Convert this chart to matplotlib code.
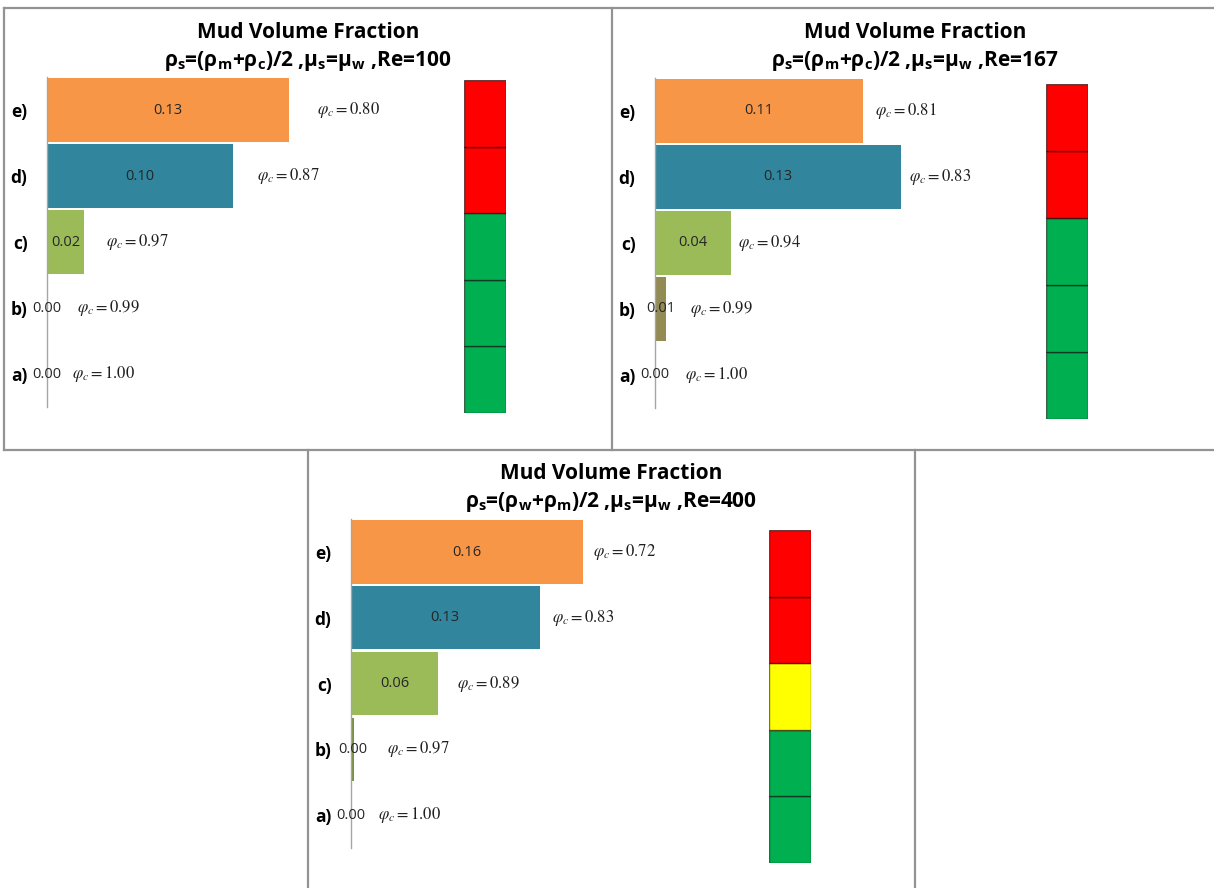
import matplotlib.pyplot as plt
from matplotlib.lines import Line2D

plt.rcParams['font.family'] = ['Open Sans', 'DejaVu Sans']
plt.rcParams['mathtext.fontset'] = 'custom'
plt.rcParams['mathtext.rm'] = 'Open Sans'
plt.rcParams['mathtext.it'] = 'Open Sans'
plt.rcParams['mathtext.bf'] = 'Open Sans:bold'

W, H = 1214, 888

# cases a) .. e), bottom to top
cases = ['a)', 'b)', 'c)', 'd)', 'e)']

frac_re100 = [0.00, 0.00, 0.02, 0.10, 0.13]
phi_re100 = [1.00, 0.99, 0.97, 0.87, 0.80]
status_re100 = ['#00B050', '#00B050', '#00B050', '#FF0000', '#FF0000']

frac_re167 = [0.00, 0.006, 0.04, 0.13, 0.11]
phi_re167 = [1.00, 0.99, 0.94, 0.83, 0.81]
status_re167 = ['#00B050', '#00B050', '#00B050', '#FF0000', '#FF0000']

frac_re400 = [0.00, 0.002, 0.06, 0.13, 0.16]
phi_re400 = [1.00, 0.97, 0.89, 0.83, 0.72]
status_re400 = ['#00B050', '#00B050', '#FFFF00', '#FF0000', '#FF0000']

subtitles = [
    r'$\mathbf{ρ_s}$=($\mathbf{ρ_m}$+$\mathbf{ρ_c}$)/2 ,$\mathbf{μ_s}$=$\mathbf{μ_w}$ ,Re=100',
    r'$\mathbf{ρ_s}$=($\mathbf{ρ_m}$+$\mathbf{ρ_c}$)/2 ,$\mathbf{μ_s}$=$\mathbf{μ_w}$ ,Re=167',
    r'$\mathbf{ρ_s}$=($\mathbf{ρ_w}$+$\mathbf{ρ_m}$)/2 ,$\mathbf{μ_s}$=$\mathbf{μ_w}$ ,Re=400',
]

bar_colors_re100 = ['#9BBB59', '#9BBB59', '#9BBB59', '#31859C', '#F79646']
bar_colors_re167 = ['#9BBB59', '#948A54', '#9BBB59', '#31859C', '#F79646']
bar_colors_re400 = ['#9BBB59', '#77933C', '#9BBB59', '#31859C', '#F79646']

# layout in pixels: bar origin x, px per unit, top/bottom row centres,
# status strip x/top/bottom, title centre x and y
layouts = [
    dict(x0=47, scale=1860, ytop=110, ybot=374, sx=464, st=80, sb=413, cx=308, ty=32),
    dict(x0=655, scale=1890, ytop=111, ybot=375, sx=1046, st=84, sb=419, cx=915, ty=32),
    dict(x0=351, scale=1450, ytop=552, ybot=815, sx=769, st=530, sb=863, cx=611, ty=473),
]
# gap between bar end and the phi label, in pixels
phi_gaps = [
    [25, 30, 22, 24, 28],
    [30, 24, 7, 8, 12],
    [27, 33, 19, 12, 10],
]

panels = [
    (frac_re100, phi_re100, status_re100, bar_colors_re100),
    (frac_re167, phi_re167, status_re167, bar_colors_re167),
    (frac_re400, phi_re400, status_re400, bar_colors_re400),
]

fig = plt.figure(figsize=(W / 100, H / 100), dpi=100)


def box(x, y, w, h):
    return [x / W, 1 - (y + h) / H, w / W, h / H]


for (frac, phi, status, colors), lay, gaps, sub in zip(panels, layouts, phi_gaps, subtitles):
    pitch = (lay['ybot'] - lay['ytop']) / 4
    top = lay['ytop'] - pitch / 2
    height = pitch * 5
    width = 600
    ax = fig.add_axes(box(lay['x0'], top, width, height))
    ax.set_xlim(0, width / lay['scale'])
    ax.set_ylim(-0.5, 4.5)
    ax.patch.set_alpha(0)
    ax.barh(range(len(cases)), frac, height=0.96, color=colors)
    for i, (v, p) in enumerate(zip(frac, phi)):
        ax.text(v / 2, i, f'{v:.2f}', ha='center', va='center',
                fontsize=10.5, color='#262626')
        ax.annotate(r'$\varphi_c = %.2f$' % p, (v, i), xytext=(gaps[i] * 0.72, 0),
                    textcoords='offset points', ha='left', va='center',
                    fontsize=12, math_fontfamily='stix', color='#202020')
    for s in ['top', 'right', 'bottom']:
        ax.spines[s].set_visible(False)
    ax.spines['left'].set_color('#A6A6A6')
    ax.spines['left'].set_linewidth(1.0)
    ax.set_xticks([])
    ax.set_yticks(range(len(cases)))
    ax.set_yticklabels(cases, fontsize=12.5, fontweight='bold')
    ax.tick_params(axis='y', length=0, pad=14)

    # status strip beside the bars
    sax = fig.add_axes(box(lay['sx'], lay['st'], 42, lay['sb'] - lay['st']))
    sax.bar([0] * len(status), [1] * len(status), bottom=range(len(status)),
            width=1, color=status, edgecolor=(0, 0, 0, 0.55), linewidth=1)
    sax.set_xlim(-0.5, 0.5)
    sax.set_ylim(0, len(status))
    sax.axis('off')

    fig.text(lay['cx'] / W, 1 - lay['ty'] / H, 'Mud Volume Fraction',
             ha='center', va='center', fontsize=15, fontweight='bold')
    fig.text(lay['cx'] / W, 1 - (lay['ty'] + 29) / H, sub,
             ha='center', va='center', fontsize=15, fontweight='bold')

# panel frames
frame = dict(color='#939393', linewidth=1.6)
for (x1, y1), (x2, y2) in [((4, 8), (1214, 8)), ((4, 450), (1214, 450)),
                           ((4, 8), (4, 450)), ((612, 8), (612, 450)),
                           ((308, 450), (308, 888)), ((915, 450), (915, 888))]:
    fig.add_artist(Line2D([x1 / W, x2 / W], [1 - y1 / H, 1 - y2 / H], **frame))

fig.savefig('out.png', dpi=100)
